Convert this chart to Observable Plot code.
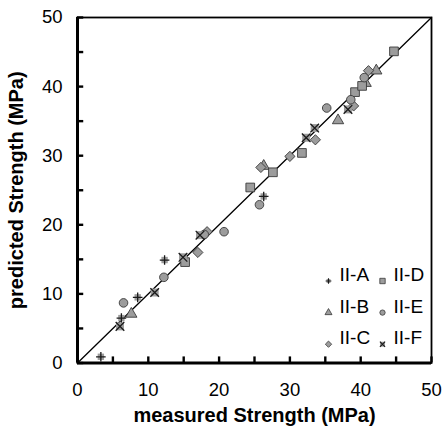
<!DOCTYPE html>
<html><head><meta charset="utf-8">
<script src="https://cdn.jsdelivr.net/npm/d3@7"></script>
<script src="https://cdn.jsdelivr.net/npm/@observablehq/plot@0.6"></script>
<style>body{margin:0;background:#fff}#chart svg{display:block}</style>
</head><body><div id="chart"></div>
<script>
// ---- data ----
const seriesNames = ["II-A", "II-B", "II-C", "II-D", "II-E", "II-F"];
const measuredA = [3.3, 6.2, 8.5, 12.3, 26.3];
const predictedA = [0.9, 6.5, 9.5, 14.9, 24.1];
const measuredB = [7.6, 26.3, 36.8, 40.7, 42.2];
const predictedB = [7.1, 28.5, 35.1, 40.5, 42.3];
const measuredC = [17.0, 18.3, 25.9, 30.0, 33.6, 39.0, 41.1];
const predictedC = [16.0, 19.0, 28.3, 29.9, 32.3, 37.2, 42.3];
const measuredD = [15.2, 24.4, 27.6, 31.7, 39.2, 40.2, 44.7];
const predictedD = [14.6, 25.4, 27.6, 30.4, 39.2, 40.1, 45.1];
const measuredE = [6.5, 12.2, 17.9, 20.7, 25.7, 35.2, 38.6, 40.5];
const predictedE = [8.7, 12.4, 18.6, 19.0, 22.9, 36.9, 38.1, 41.3];
const measuredF = [6.0, 10.9, 14.9, 17.3, 32.3, 33.5, 38.2];
const predictedF = [5.3, 10.2, 15.3, 18.5, 32.6, 34.0, 36.7];
const xTicks = [0, 5, 10, 15, 20, 25, 30, 35, 40, 45, 50];
const tickLabels = [0, 10, 20, 30, 40, 50];
const identityLine = [0, 50];
const xTitle = "measured Strength (MPa)";
const yTitle = "predicted Strength (MPa)";

const zip = (xs, ys) => xs.map((x, i) => ({x, y: ys[i]}));
const series = [
  {name: seriesNames[0], data: zip(measuredA, predictedA), base: "square", baseR: 3.6, over: "plus", overR: 3.2},
  {name: seriesNames[1], data: zip(measuredB, predictedB), base: "triangle", baseR: 4.2},
  {name: seriesNames[2], data: zip(measuredC, predictedC), base: "diamond2", baseR: 4.6},
  {name: seriesNames[3], data: zip(measuredD, predictedD), base: "square", baseR: 4.9},
  {name: seriesNames[4], data: zip(measuredE, predictedE), base: "circle", baseR: 4.3},
  {name: seriesNames[5], data: zip(measuredF, predictedF), base: "square", baseR: 4.5, over: "times", overR: 4.0}
];

const FILL = "#9c9c9c", EDGE = "#3a3a3a", DARK = "#1a1a1a";
const TICK_LEN = 0.88; // inward tick length, in axis units (~6px)
const marks = [];

// identity line
marks.push(Plot.line(identityLine.map(v => ({x: v, y: v})), {x: "x", y: "y", stroke: "#000", strokeWidth: 1.3}));

// points
for (const s of series) {
  marks.push(Plot.dot(s.data, {x: "x", y: "y", symbol: s.base, r: s.baseR, fill: FILL, stroke: s.over ? "none" : EDGE, strokeWidth: 0.9}));
  if (s.over) marks.push(Plot.dot(s.data, {x: "x", y: "y", symbol: s.over, r: s.overR, stroke: DARK, strokeWidth: 1.3}));
}

// legend (inside frame, bottom-right)
series.forEach((s, i) => {
  const col = Math.floor(i / 3), row = i % 3;
  const dx = -103 + col * 54, dy = -82 + row * 31.6;
  const k = 0.62;
  marks.push(Plot.dot([s.name], {frameAnchor: "bottom-right", dx, dy, symbol: s.base, r: s.baseR * k, fill: FILL, stroke: s.over ? "none" : EDGE, strokeWidth: 0.8}));
  if (s.over) marks.push(Plot.dot([s.name], {frameAnchor: "bottom-right", dx, dy, symbol: s.over, r: s.overR * k, stroke: DARK, strokeWidth: 1.1}));
  marks.push(Plot.text([s.name], {frameAnchor: "bottom-right", dx: dx + 11, dy, text: d => d, textAnchor: "start", fontSize: 19, fill: "#000"}));
});

// frame, inward ticks and axes
marks.push(Plot.frame({stroke: "#000", strokeWidth: 1.8}));
marks.push(Plot.ruleX(xTicks, {x: d => d, y1: 0, y2: TICK_LEN, stroke: "#000", strokeWidth: 2.4}));
marks.push(Plot.ruleY(xTicks, {y: d => d, x1: 0, x2: TICK_LEN, stroke: "#000", strokeWidth: 2.4}));
marks.push(Plot.ruleX([0], {stroke: "#000", strokeWidth: 3}));
marks.push(Plot.ruleY([0], {stroke: "#000", strokeWidth: 3}));
marks.push(Plot.axisX(tickLabels, {tickSize: 0, tickPadding: 20, fontSize: 18.5, label: null}));
marks.push(Plot.axisY(tickLabels, {tickSize: 0, tickPadding: 15, fontSize: 18.5, label: null}));
marks.push(Plot.text([xTitle], {frameAnchor: "bottom", dy: 59, text: d => d, fontSize: 20, fontWeight: "bold", fill: "#000"}));
marks.push(Plot.text([yTitle], {frameAnchor: "left", dx: -61, rotate: -90, textAnchor: "middle", text: d => d, fontSize: 20, fontWeight: "bold", fill: "#000"}));

const chart = Plot.plot({
  width: 442, height: 431,
  marginLeft: 77, marginRight: 11, marginTop: 17, marginBottom: 68.5,
  x: {domain: [0, 50], label: null},
  y: {domain: [0, 50], label: null},
  style: {fontFamily: "'Liberation Sans', Arial, sans-serif", background: "#fff", color: "#000"},
  marks
});
document.getElementById("chart").append(chart);
</script></body></html>
